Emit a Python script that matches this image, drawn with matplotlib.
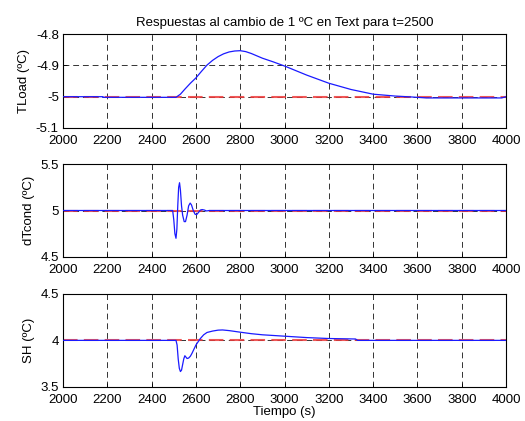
import numpy as np
import matplotlib.pyplot as plt
from matplotlib.ticker import FormatStrFormatter

plt.rcParams['font.family'] = ['Liberation Sans', 'DejaVu Sans']
plt.rcParams['font.size'] = 9.5

# TLoad response
t_load = [2000, 2180, 2181, 2510, 2530, 2550, 2575, 2600, 2625, 2650, 2675, 2700,
          2725, 2750, 2775, 2800, 2825, 2850, 2900, 2950, 3000, 3100, 3200, 3300,
          3400, 3500, 3550, 3600, 3640, 3980, 4000]
y_load = [-5.0, -5.0, -5.002, -5.002, -4.992, -4.976, -4.957, -4.94, -4.919, -4.899,
          -4.884, -4.872, -4.863, -4.857, -4.854, -4.853, -4.856, -4.862, -4.877,
          -4.889, -4.902, -4.931, -4.957, -4.977, -4.992, -4.998, -5.0, -5.002,
          -5.004, -5.004, -5.0]

# dTcond response
t_cond = [2000, 2495, 2500, 2505, 2510, 2514, 2518, 2522, 2526, 2530, 2535, 2540,
          2547, 2553, 2560, 2567, 2574, 2580, 2588, 2596, 2603, 2612, 2620, 2628,
          2638, 2648, 2660, 4000]
y_cond = [5.0, 5.0, 4.9, 4.75, 4.7, 4.8, 5.05, 5.25, 5.3, 5.22, 5.05, 4.95,
          4.88, 4.88, 4.95, 5.05, 5.08, 5.06, 5.0, 4.96, 4.955, 4.98, 5.005, 5.01,
          5.005, 4.995, 5.0, 5.0]

# SH response
t_sh = [2000, 2510, 2515, 2520, 2525, 2530, 2535, 2540, 2545, 2550, 2555, 2560,
        2567, 2575, 2582, 2590, 2600, 2610, 2620, 2635, 2650, 2675, 2700, 2720,
        2750, 2800, 2850, 2900, 3000, 3100, 3200, 3320, 3330, 4000]
y_sh = [4.0, 4.0, 3.95, 3.8, 3.7, 3.665, 3.68, 3.74, 3.8, 3.835, 3.82, 3.805,
        3.81, 3.83, 3.86, 3.9, 3.95, 3.985, 4.02, 4.06, 4.085, 4.1, 4.11, 4.112,
        4.105, 4.088, 4.072, 4.06, 4.045, 4.03, 4.02, 4.015, 4.0, 4.0]

refs = [-5.0, 5.0, 4.0]
ylims = [(-5.1, -4.8), (4.5, 5.5), (3.5, 4.5)]
yticks = [[-5.1, -5.0, -4.9, -4.8], [4.5, 5.0, 5.5], [3.5, 4.0, 4.5]]
ylabels = ['TLoad (ºC)', 'dTcond (ºC)', 'SH (ºC)']
xticks = list(range(2000, 4001, 200))

fig = plt.figure(figsize=(5.25, 4.21), dpi=100)
boxes = [[0.12, 0.696, 0.844, 0.223],
         [0.12, 0.390, 0.844, 0.220],
         [0.12, 0.081, 0.844, 0.221]]
series = [(t_load, y_load), (t_cond, y_cond), (t_sh, y_sh)]

for i, box in enumerate(boxes):
    ax = fig.add_axes(box)
    t, y = series[i]
    ax.plot([2000, 4000], [refs[i], refs[i]], color='#ee3b3b', lw=1.5,
            dashes=(7, 3), alpha=0.85, zorder=2)
    ax.plot(t, y, color='#1a1aff', lw=0.9, zorder=3)
    ax.set_xlim(2000, 4000)
    ax.set_ylim(*ylims[i])
    ax.set_xticks(xticks)
    ax.set_yticks(yticks[i])
    ax.yaxis.set_major_formatter(FormatStrFormatter('%g'))
    ax.tick_params(direction='in', length=3, labelsize=9.5, width=0.6)
    ax.tick_params(axis='x', pad=5)
    ax.tick_params(axis='y', pad=3)
    ax.grid(True, color='#333333', lw=0.7, dashes=(6, 4))
    ax.set_axisbelow(True)
    for s in ax.spines.values():
        s.set_linewidth(0.8)
    ax.set_ylabel(ylabels[i], fontsize=9.5, labelpad=4)
    if i == 0:
        ax.set_title('Respuestas al cambio de 1 ºC en Text para t=2500', fontsize=9.5)
    if i == 2:
        ax.set_xlabel('Tiempo (s)', fontsize=9.5, labelpad=0)

fig.savefig('out.png', dpi=100)
